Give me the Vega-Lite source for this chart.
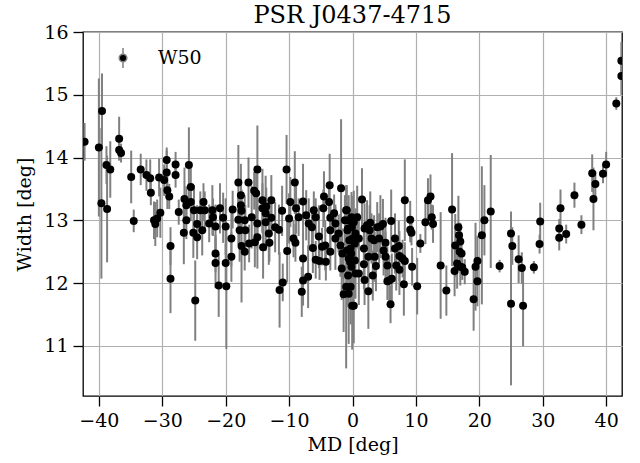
{
  "$schema": "https://vega.github.io/schema/vega-lite/v6.json",
  "width": 539,
  "height": 364,
  "autosize": {"type": "none"},
  "padding": {"left": 83, "top": 32, "right": 18, "bottom": 67},
  "background": "white",
  "title": {"text": "PSR J0437-4715", "font": "DejaVu Serif", "fontSize": 24, "fontWeight": "normal", "color": "black", "offset": -5},
  "config": {
    "view": {"stroke": "black", "strokeWidth": 1.3},
    "axis": {"labelFont": "DejaVu Serif", "labelFontSize": 19, "titleFont": "DejaVu Serif", "titleFontSize": 19, "titleFontWeight": "normal", "labelColor": "black", "titleColor": "black", "tickColor": "black", "tickSize": 10, "tickWidth": 1.3, "domain": false, "gridColor": "#b0b0b0", "gridWidth": 1.2, "gridOpacity": 1, "labelPadding": 5}
  },
  "data": {"values": [
    {"md": -42.25, "w": 14.25, "err": 0.3},
    {"md": -40.0, "w": 14.16, "err": 1.1},
    {"md": -39.6, "w": 13.27, "err": 1.2},
    {"md": -39.5, "w": 14.74, "err": 0.6},
    {"md": -38.8, "w": 13.88, "err": 0.3},
    {"md": -38.2, "w": 13.81, "err": 0.45},
    {"md": -38.7, "w": 13.18, "err": 0.85},
    {"md": -36.8, "w": 14.30, "err": 0.35},
    {"md": -36.8, "w": 14.12, "err": 0.15},
    {"md": -36.5, "w": 14.07, "err": 0.15},
    {"md": -34.9, "w": 13.69, "err": 0.42},
    {"md": -34.5, "w": 12.99, "err": 0.18},
    {"md": -33.4, "w": 13.81, "err": 0.25},
    {"md": -32.5, "w": 13.72, "err": 0.25},
    {"md": -31.9, "w": 13.67, "err": 0.3},
    {"md": -31.8, "w": 13.44, "err": 0.2},
    {"md": -31.3, "w": 13.0, "err": 0.3},
    {"md": -31.1, "w": 12.94, "err": 0.35},
    {"md": -30.8, "w": 13.03, "err": 0.3},
    {"md": -30.5, "w": 13.68, "err": 0.3},
    {"md": -30.3, "w": 13.12, "err": 0.4},
    {"md": -29.7, "w": 13.64, "err": 0.25},
    {"md": -29.3, "w": 13.96, "err": 0.2},
    {"md": -29.3, "w": 13.76, "err": 0.35},
    {"md": -29.2, "w": 13.48, "err": 0.3},
    {"md": -28.9, "w": 13.38, "err": 0.2},
    {"md": -28.7, "w": 12.59, "err": 0.3},
    {"md": -28.7, "w": 12.07, "err": 0.55},
    {"md": -27.9, "w": 13.89, "err": 0.2},
    {"md": -27.9, "w": 13.72, "err": 0.2},
    {"md": -27.4, "w": 13.13, "err": 0.2},
    {"md": -25.8, "w": 13.88, "err": 0.6},
    {"md": -25.5, "w": 13.53, "err": 0.3},
    {"md": -26.5, "w": 13.34, "err": 0.5},
    {"md": -26.2, "w": 13.24, "err": 0.3},
    {"md": -25.5, "w": 13.29, "err": 0.3},
    {"md": -25.0, "w": 13.16, "err": 0.4},
    {"md": -26.2, "w": 13.0, "err": 0.3},
    {"md": -26.6, "w": 12.80, "err": 0.5},
    {"md": -25.1, "w": 12.80, "err": 0.4},
    {"md": -24.5, "w": 12.94, "err": 0.3},
    {"md": -24.5, "w": 12.73, "err": 0.35},
    {"md": -24.8, "w": 11.72, "err": 0.64},
    {"md": -23.5, "w": 13.29, "err": 0.3},
    {"md": -23.7, "w": 12.84, "err": 0.4},
    {"md": -23.3, "w": 13.16, "err": 0.3},
    {"md": -24.0, "w": 13.16, "err": 0.3},
    {"md": -22.6, "w": 12.95, "err": 0.3},
    {"md": -22.1, "w": 13.16, "err": 0.4},
    {"md": -22.0, "w": 13.05, "err": 0.3},
    {"md": -21.6, "w": 12.90, "err": 0.35},
    {"md": -21.6, "w": 12.47, "err": 0.3},
    {"md": -21.6, "w": 12.32, "err": 0.4},
    {"md": -21.1, "w": 11.96, "err": 0.5},
    {"md": -20.9, "w": 13.19, "err": 0.4},
    {"md": -20.4, "w": 13.04, "err": 0.4},
    {"md": -20.0, "w": 12.90, "err": 0.45},
    {"md": -20.0, "w": 12.32, "err": 0.3},
    {"md": -19.1, "w": 12.42, "err": 0.4},
    {"md": -19.1, "w": 12.71, "err": 0.45},
    {"md": -18.9, "w": 13.17, "err": 0.3},
    {"md": -19.9, "w": 11.95, "err": 1.0},
    {"md": -18.0, "w": 13.60, "err": 0.6},
    {"md": -17.6, "w": 13.40, "err": 0.5},
    {"md": -17.6, "w": 13.24, "err": 0.4},
    {"md": -17.5, "w": 13.15, "err": 0.3},
    {"md": -18.0, "w": 13.01, "err": 0.4},
    {"md": -17.0, "w": 13.0, "err": 0.4},
    {"md": -17.8, "w": 12.84, "err": 0.5},
    {"md": -16.9, "w": 12.84, "err": 0.4},
    {"md": -17.5, "w": 12.59, "err": 0.9},
    {"md": -17.0, "w": 12.50, "err": 0.3},
    {"md": -16.4, "w": 13.60, "err": 0.4},
    {"md": -16.3, "w": 12.63, "err": 0.3},
    {"md": -15.9, "w": 13.05, "err": 0.5},
    {"md": -15.5, "w": 13.47, "err": 0.3},
    {"md": -15.2, "w": 13.43, "err": 0.4},
    {"md": -15.0, "w": 13.81, "err": 0.7},
    {"md": -15.0, "w": 12.95, "err": 0.4},
    {"md": -15.0, "w": 12.73, "err": 0.5},
    {"md": -15.4, "w": 12.65, "err": 0.4},
    {"md": -14.2, "w": 13.32, "err": 0.5},
    {"md": -14.2, "w": 13.19, "err": 0.4},
    {"md": -14.1, "w": 12.57, "err": 0.5},
    {"md": -13.7, "w": 13.11, "err": 0.6},
    {"md": -13.7, "w": 12.97, "err": 0.4},
    {"md": -13.6, "w": 13.22, "err": 0.3},
    {"md": -13.2, "w": 12.79, "err": 0.5},
    {"md": -13.1, "w": 12.64, "err": 0.3},
    {"md": -12.8, "w": 13.32, "err": 0.4},
    {"md": -12.8, "w": 13.04, "err": 0.3},
    {"md": -12.2, "w": 12.89, "err": 0.4},
    {"md": -11.6, "w": 12.85, "err": 0.4},
    {"md": -11.5, "w": 11.89, "err": 0.6},
    {"md": -11.0, "w": 12.01, "err": 0.3},
    {"md": -11.1, "w": 13.15, "err": 0.4},
    {"md": -10.3, "w": 12.51, "err": 0.5},
    {"md": -10.4, "w": 13.81, "err": 0.55},
    {"md": -9.8, "w": 13.29, "err": 0.4},
    {"md": -10.0, "w": 13.03, "err": 0.4},
    {"md": -9.1, "w": 13.60, "err": 0.5},
    {"md": -9.3, "w": 12.71, "err": 0.3},
    {"md": -9.0, "w": 12.64, "err": 0.3},
    {"md": -8.9, "w": 13.19, "err": 0.4},
    {"md": -8.5, "w": 13.05, "err": 0.3},
    {"md": -7.8, "w": 13.30, "err": 0.6},
    {"md": -7.8, "w": 12.39, "err": 0.4},
    {"md": -7.8, "w": 12.04, "err": 0.4},
    {"md": -8.0, "w": 11.86, "err": 0.4},
    {"md": -7.3, "w": 13.08, "err": 0.4},
    {"md": -7.0, "w": 12.10, "err": 0.5},
    {"md": -6.9, "w": 12.95, "err": 0.4},
    {"md": -6.4, "w": 12.89, "err": 0.3},
    {"md": -6.1, "w": 13.16, "err": 0.3},
    {"md": -6.25, "w": 12.56, "err": 0.4},
    {"md": -5.8, "w": 13.05, "err": 0.3},
    {"md": -5.8, "w": 12.37, "err": 0.3},
    {"md": -5.3, "w": 12.74, "err": 0.5},
    {"md": -5.2, "w": 12.35, "err": 0.3},
    {"md": -4.6, "w": 13.19, "err": 0.3},
    {"md": -4.5, "w": 13.38, "err": 0.4},
    {"md": -4.8, "w": 12.58, "err": 0.3},
    {"md": -4.3, "w": 12.60, "err": 0.4},
    {"md": -4.2, "w": 12.34, "err": 0.3},
    {"md": -3.7, "w": 13.29, "err": 0.3},
    {"md": -3.6, "w": 13.56, "err": 0.5},
    {"md": -3.5, "w": 13.04, "err": 0.3},
    {"md": -3.5, "w": 12.84, "err": 0.4},
    {"md": -3.5, "w": 12.50, "err": 0.3},
    {"md": -2.9, "w": 13.11, "err": 0.3},
    {"md": -2.7, "w": 12.95, "err": 0.3},
    {"md": -2.7, "w": 12.71, "err": 0.5},
    {"md": -2.2, "w": 12.79, "err": 0.3},
    {"md": -1.9, "w": 12.60, "err": 0.5},
    {"md": -1.8, "w": 13.51, "err": 1.1},
    {"md": -1.7, "w": 12.23, "err": 0.5},
    {"md": -1.6, "w": 12.47, "err": 0.4},
    {"md": -1.4, "w": 11.82, "err": 0.6},
    {"md": -1.2, "w": 13.0, "err": 0.4},
    {"md": -1.0, "w": 13.16, "err": 0.4},
    {"md": -1.0, "w": 11.94, "err": 1.3},
    {"md": -0.7, "w": 12.87, "err": 0.4},
    {"md": -0.6, "w": 12.39, "err": 0.4},
    {"md": -0.3, "w": 12.55, "err": 0.4},
    {"md": -0.16, "w": 12.26, "err": 0.5},
    {"md": -0.05, "w": 11.64, "err": 0.7},
    {"md": -0.9, "w": 13.16, "err": 0.4},
    {"md": -0.6, "w": 13.0, "err": 0.4},
    {"md": -0.8, "w": 12.84, "err": 0.4},
    {"md": -0.5, "w": 12.68, "err": 0.5},
    {"md": -0.9, "w": 12.52, "err": 0.4},
    {"md": -0.4, "w": 12.34, "err": 0.5},
    {"md": -0.7, "w": 12.12, "err": 0.5},
    {"md": -0.3, "w": 11.94, "err": 0.6},
    {"md": -0.6, "w": 11.83, "err": 0.8},
    {"md": -0.16, "w": 13.05, "err": 0.4},
    {"md": -0.1, "w": 12.89, "err": 0.5},
    {"md": 0.0, "w": 12.71, "err": 0.4},
    {"md": -0.2, "w": 12.47, "err": 0.5},
    {"md": 0.2, "w": 12.97, "err": 0.5},
    {"md": 0.47, "w": 12.79, "err": 0.4},
    {"md": 0.37, "w": 12.63, "err": 0.5},
    {"md": 0.37, "w": 12.36, "err": 0.6},
    {"md": 0.47, "w": 12.15, "err": 0.4},
    {"md": 0.2, "w": 11.64, "err": 0.6},
    {"md": 0.74, "w": 13.05, "err": 0.5},
    {"md": 1.0, "w": 12.71, "err": 0.4},
    {"md": 1.0, "w": 12.15, "err": 0.5},
    {"md": 1.5, "w": 13.33, "err": 0.5},
    {"md": 1.8, "w": 12.55, "err": 0.4},
    {"md": 1.8, "w": 12.30, "err": 0.4},
    {"md": 1.9, "w": 12.87, "err": 0.4},
    {"md": 1.9, "w": 12.05, "err": 0.4},
    {"md": 2.3, "w": 12.92, "err": 0.4},
    {"md": 2.5, "w": 12.42, "err": 0.4},
    {"md": 2.5, "w": 11.87, "err": 0.6},
    {"md": 2.7, "w": 12.84, "err": 0.4},
    {"md": 2.8, "w": 12.96, "err": 0.5},
    {"md": 3.0, "w": 12.71, "err": 0.4},
    {"md": 3.2, "w": 12.12, "err": 0.4},
    {"md": 3.4, "w": 12.68, "err": 0.4},
    {"md": 3.5, "w": 12.42, "err": 0.4},
    {"md": 3.7, "w": 12.27, "err": 0.4},
    {"md": 3.9, "w": 12.89, "err": 0.4},
    {"md": 4.2, "w": 12.71, "err": 0.4},
    {"md": 4.4, "w": 12.90, "err": 0.5},
    {"md": 4.8, "w": 12.94, "err": 0.4},
    {"md": 4.9, "w": 12.52, "err": 0.4},
    {"md": 5.2, "w": 12.64, "err": 0.4},
    {"md": 5.2, "w": 12.42, "err": 0.4},
    {"md": 5.5, "w": 12.28, "err": 0.3},
    {"md": 5.5, "w": 12.03, "err": 0.3},
    {"md": 5.8, "w": 12.04, "err": 0.4},
    {"md": 6.0, "w": 11.66, "err": 0.3},
    {"md": 6.1, "w": 12.99, "err": 0.5},
    {"md": 6.2, "w": 12.07, "err": 0.4},
    {"md": 6.7, "w": 12.71, "err": 0.4},
    {"md": 6.7, "w": 12.55, "err": 0.4},
    {"md": 6.9, "w": 12.28, "err": 0.4},
    {"md": 7.3, "w": 12.59, "err": 0.4},
    {"md": 7.4, "w": 12.43, "err": 0.4},
    {"md": 7.4, "w": 12.21, "err": 0.4},
    {"md": 7.9, "w": 12.39, "err": 0.3},
    {"md": 8.25, "w": 12.35, "err": 0.3},
    {"md": 8.1, "w": 11.98, "err": 0.5},
    {"md": 8.25, "w": 13.32, "err": 0.65},
    {"md": 9.1, "w": 13.01, "err": 0.3},
    {"md": 9.1, "w": 12.85, "err": 0.2},
    {"md": 9.3, "w": 12.80, "err": 0.2},
    {"md": 9.4, "w": 12.26, "err": 0.3},
    {"md": 10.2, "w": 11.95, "err": 0.45},
    {"md": 10.7, "w": 12.63, "err": 0.15},
    {"md": 11.5, "w": 12.97, "err": 0.35},
    {"md": 11.9, "w": 13.32, "err": 0.35},
    {"md": 12.3, "w": 13.38, "err": 0.35},
    {"md": 12.5, "w": 13.05, "err": 0.2},
    {"md": 12.7, "w": 12.94, "err": 0.3},
    {"md": 13.9, "w": 12.28, "err": 0.85},
    {"md": 14.8, "w": 11.88, "err": 0.4},
    {"md": 15.7, "w": 13.17, "err": 0.9},
    {"md": 16.7, "w": 12.89, "err": 0.5},
    {"md": 16.8, "w": 12.76, "err": 0.2},
    {"md": 16.2, "w": 12.60, "err": 0.5},
    {"md": 17.0, "w": 12.66, "err": 0.3},
    {"md": 16.9, "w": 12.50, "err": 0.2},
    {"md": 17.2, "w": 12.47, "err": 0.3},
    {"md": 16.5, "w": 12.31, "err": 0.4},
    {"md": 16.1, "w": 12.19, "err": 0.4},
    {"md": 17.0, "w": 12.26, "err": 0.3},
    {"md": 17.3, "w": 12.25, "err": 0.2},
    {"md": 17.7, "w": 12.18, "err": 0.2},
    {"md": 19.1, "w": 11.74, "err": 0.5},
    {"md": 19.4, "w": 12.26, "err": 0.7},
    {"md": 19.7, "w": 12.35, "err": 0.4},
    {"md": 19.7, "w": 12.03, "err": 0.4},
    {"md": 20.4, "w": 12.76, "err": 1.1},
    {"md": 20.8, "w": 13.0, "err": 0.56},
    {"md": 21.8, "w": 13.14, "err": 0.9},
    {"md": 23.2, "w": 12.27, "err": 0.1},
    {"md": 25.0, "w": 12.79, "err": 0.35},
    {"md": 25.2, "w": 12.59, "err": 0.3},
    {"md": 25.0, "w": 11.67, "err": 1.3},
    {"md": 26.2, "w": 12.38, "err": 0.38},
    {"md": 26.7, "w": 12.24, "err": 0.25},
    {"md": 26.9, "w": 11.64, "err": 0.65},
    {"md": 28.6, "w": 12.25, "err": 0.1},
    {"md": 29.6, "w": 12.98, "err": 0.3},
    {"md": 29.5, "w": 12.62, "err": 0.15},
    {"md": 32.6, "w": 12.87, "err": 0.15},
    {"md": 32.8, "w": 13.19, "err": 0.3},
    {"md": 32.6, "w": 12.72, "err": 0.2},
    {"md": 33.7, "w": 12.78, "err": 0.15},
    {"md": 35.0, "w": 13.40, "err": 0.2},
    {"md": 36.1, "w": 12.93, "err": 0.15},
    {"md": 37.8, "w": 13.75, "err": 0.3},
    {"md": 38.3, "w": 13.58, "err": 0.2},
    {"md": 38.0, "w": 13.34, "err": 0.5},
    {"md": 39.5, "w": 13.74, "err": 0.15},
    {"md": 40.0, "w": 13.89, "err": 0.2},
    {"md": 41.6, "w": 14.86, "err": 0.1},
    {"md": 42.4, "w": 15.30, "err": 0.3},
    {"md": 42.4, "w": 15.54, "err": 0.3}
  ]},
  "encoding": {
    "x": {"field": "md", "type": "quantitative", "scale": {"domain": [-42.5, 42.5], "nice": false, "zero": false}, "axis": {"title": "MD [deg]", "values": [-40, -30, -20, -10, 0, 10, 20, 30, 40], "titlePadding": 5}},
    "y": {"field": "w", "type": "quantitative", "scale": {"domain": [10.2, 16], "nice": false, "zero": false, "clamp": true}, "axis": {"title": "Width [deg]", "values": [11, 12, 13, 14, 15, 16], "titlePadding": 9}}
  },
  "layer": [
    {
      "mark": {"type": "errorbar", "ticks": false, "color": "#808080", "thickness": 2},
      "encoding": {"yError": {"field": "err"}}
    },
    {
      "mark": {"type": "point", "filled": true, "size": 64, "opacity": 1, "clip": true},
      "encoding": {
        "color": {"datum": "W50", "type": "nominal", "scale": {"range": ["black"]},
          "legend": {"title": null, "orient": "top-left", "offset": 15, "padding": 0, "symbolOffset": 14,
            "symbolType": "M0,-1L0,-0.45M0,0.45L0,1M-0.38,0A0.38,0.38,0,1,0,0.38,0A0.38,0.38,0,1,0,-0.38,0Z",
            "symbolSize": 400, "symbolFillColor": "black", "symbolStrokeColor": "#808080", "symbolStrokeWidth": 1.5,
            "labelFont": "DejaVu Serif", "labelFontSize": 19, "labelColor": "black", "labelOffset": 24}}
      }
    }
  ]
}
